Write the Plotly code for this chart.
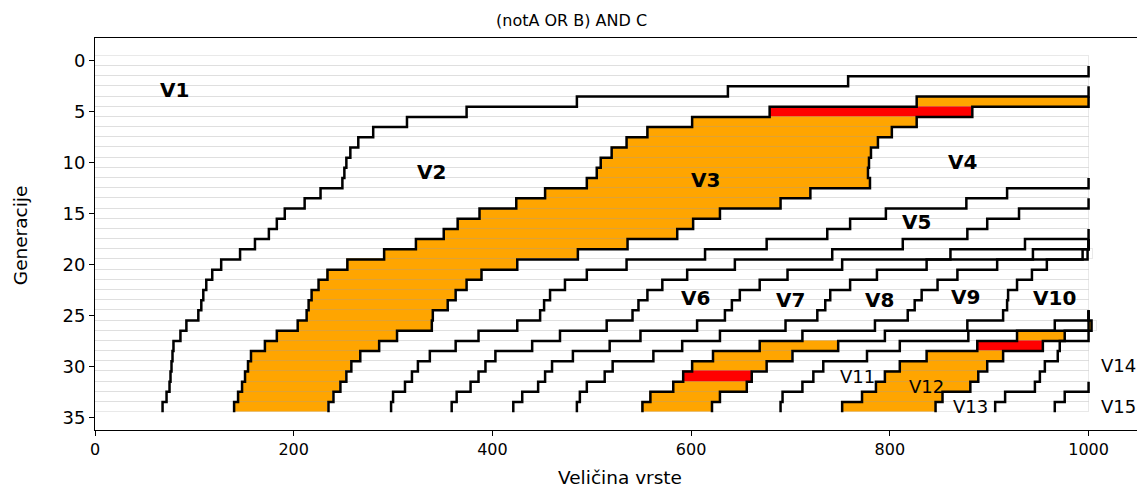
import plotly.graph_objects as go

generations = list(range(35))
species = ["V1", "V2", "V3", "V4", "V5", "V6", "V7", "V8", "V9", "V10",
           "V11", "V12", "V13", "V14", "V15"]
birth_gen = [0, 2, 4, 5, 13, 15, 18, 19, 19, 19, 26, 26, 26, 28, 33]

v1_size = [1000, 1000, 758, 637, 485, 374, 314, 280, 265, 257, 253, 251, 249, 227, 211,
           191, 183, 175, 161, 146, 127, 118, 112, 109, 107, 104, 92, 86, 79, 78, 77, 76,
           75, 72, 68]
v2_size = [242, 363, 342, 305, 287, 276, 270, 263, 256, 254, 246, 226, 213, 196, 182, 176,
           162, 145, 127, 116, 113, 109, 108, 109, 112, 97, 92, 79, 77, 75, 73, 72, 72]
v3_size = [173, 204, 226, 246, 253, 261, 270, 273, 285, 267, 266, 242, 237, 235, 213, 195,
           171, 155, 149, 145, 140, 127, 135, 121, 115, 110, 104, 102, 99, 96, 95]
v4_size = [117, 173, 198, 212, 219, 221, 222, 220, 198, 187, 167, 158, 151, 140, 128, 110,
           106, 99, 95, 97, 108, 86, 82, 77, 70, 67, 66, 65, 60, 63]
v5_size = [82, 123, 134, 138, 141, 137, 128, 109, 101, 98, 98, 95, 93, 90, 82, 77, 66, 68,
           67, 66, 64, 61]
v6_size = [70, 102, 122, 123, 119, 108, 101, 98, 93, 94, 93, 91, 81, 78, 78, 67, 67, 68, 66, 62]
v7_size = [64, 83, 85, 90, 91, 91, 94, 93, 89, 80, 73, 81, 61, 60, 49, 58, 64]
v8_size = [50, 71, 81, 88, 92, 90, 91, 90, 83, 78, 60, 80, 79, 87, 71, 66]
v9_size = [5, 50, 75, 80, 87, 93, 96, 93, 83, 79, 80, 75, 69, 74, 70, 70]
v10_size = [5, 42, 57, 72, 81, 82, 86, 88, 84, 62, 75, 57, 62, 56, 63, 69]
v11_size = [34, 49, 78, 60, 77, 72, 74, 80, 62]
v12_size = [3, 48, 66, 77, 88, 94, 95, 81, 94]
v13_size = [5, 24, 17, 55, 58, 62, 65, 63, 60]
v14_size = [29, 31, 44, 49, 54, 60, 60]
v15_size = [24, 34]

# highlighted species: first orange generation and the red generation
orange_start = {"V3": 4, "V9": 28, "V12": 26}
red_generation = {"V3": 5, "V9": 31, "V12": 28}

all_sizes = [v1_size, v2_size, v3_size, v4_size, v5_size, v6_size, v7_size, v8_size,
             v9_size, v10_size, v11_size, v12_size, v13_size, v14_size, v15_size]

n_gen = len(generations)
matrix = []
for b, s in zip(birth_gen, all_sizes):
    row = [0] * n_gen
    for i, val in enumerate(s):
        row[b + i] = val
    matrix.append(row)

left = []
for k in range(len(species)):
    left.append([sum(matrix[j][g] for j in range(k)) for g in generations])

ORANGE = "#FFA500"
RED = "#FF0000"

fig = go.Figure()

for k, name in enumerate(species):
    gs = [g for g in generations if g >= birth_gen[k]]
    cols = []
    for g in gs:
        c = "white"
        if name in orange_start and g >= orange_start[name]:
            c = ORANGE
        if name in red_generation and g == red_generation[name]:
            c = RED
        cols.append(c)
    fig.add_trace(go.Bar(
        y=gs, x=[matrix[k][g] for g in gs], base=[left[k][g] for g in gs],
        orientation="h", width=1.0,
        marker=dict(color=cols, line=dict(color="rgba(0,0,0,0.085)", width=1)),
        hoverinfo="skip", showlegend=False))

for k in range(1, len(species)):
    gs = [g for g in generations if g >= birth_gen[k] - 1]
    xs = [left[k][g] for g in gs] + [left[k][gs[-1]]]
    ys = [g - 0.5 for g in gs] + [gs[-1] + 0.5]
    fig.add_trace(go.Scatter(x=xs, y=ys, mode="lines",
                             line=dict(color="black", width=2.5, shape="vh"),
                             hoverinfo="skip", showlegend=False))

label_pos = {
    "V1": (80, 2.9), "V2": (339, 10.9), "V3": (614, 11.7), "V4": (873, 9.9),
    "V5": (827, 15.8), "V6": (604, 23.3), "V7": (700, 23.5), "V8": (790, 23.5),
    "V9": (876, 23.2), "V10": (966, 23.3), "V11": (767, 31.0), "V12": (837, 32.0),
    "V13": (881, 33.9), "V14": (1030, 29.9), "V15": (1030, 33.9),
}
annotations = []
for name in species:
    x, y = label_pos[name]
    bold = name in species[:10]
    annotations.append(dict(
        x=x, y=y, xref="x", yref="y", showarrow=False,
        text=("<b>%s</b>" % name) if bold else name,
        font=dict(family="DejaVu Sans", size=20 if bold else 18, color="black")))

annotations.append(dict(x=0.454, y=1.075, xref="paper", yref="paper", showarrow=False,
                        text="(notA OR B) AND C", yanchor="top",
                        font=dict(family="DejaVu Sans", size=16, color="black")))
annotations.append(dict(x=0.5, y=-0.1224, xref="paper", yref="paper", showarrow=False,
                        text="Veličina vrste", yanchor="middle",
                        font=dict(family="DejaVu Sans", size=18.5, color="black")))
annotations.append(dict(x=-0.0714, y=0.497, xref="paper", yref="paper", showarrow=False,
                        text="Generacije", textangle=-90, xanchor="center", yanchor="middle",
                        font=dict(family="DejaVu Sans", size=18.5, color="black")))

# the page body adds an 8px offset, so the figure is 8px smaller than the window
fig.update_layout(
    width=1137, height=482,
    margin=dict(l=87, r=0, t=30, b=60),
    plot_bgcolor="white", paper_bgcolor="white",
    barmode="overlay", bargap=0,
    annotations=annotations,
    font=dict(family="DejaVu Sans", color="black"),
)
fig.update_xaxes(range=[0, 1056.8], showgrid=False, zeroline=False,
                 showline=True, linecolor="black", linewidth=1, mirror=True,
                 ticks="outside", ticklen=5, tickcolor="black",
                 tickvals=[0, 200, 400, 600, 800, 1000],
                 tickfont=dict(family="DejaVu Sans", size=16, color="black"))
fig.update_yaxes(range=[36.25, -2.25], showgrid=False, zeroline=False,
                 showline=True, linecolor="black", linewidth=1,
                 ticks="outside", ticklen=5, tickcolor="black",
                 tickvals=[0, 5, 10, 15, 20, 25, 30, 35],
                 tickfont=dict(family="DejaVu Sans", size=18, color="black"))

fig.write_html("out.html")
